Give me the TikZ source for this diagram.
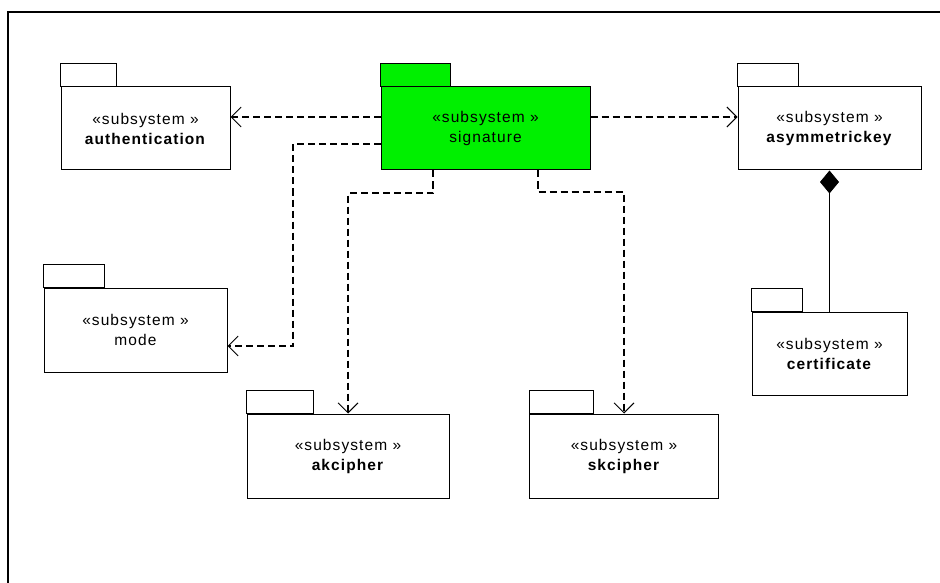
\documentclass[tikz,border=0pt]{standalone}
\usepackage{fontspec}
\setmainfont{Liberation Sans}[LetterSpace=7]
\usetikzlibrary{arrows.meta}
\definecolor{sigfill}{RGB}{0,240,0}
\begin{document}
\begin{tikzpicture}[x=1pt,y=-1pt,
  pkgline/.style={draw, line width=1pt},
  pkg/.style={pkgline, fill=white, inner sep=0pt, align=center,
    minimum height=83pt, font=\fontsize{15.5}{20}\selectfont},
  dep/.style={line width=1.4pt, dash pattern=on 7pt off 4pt,
    -{Straight Barb[length=10pt,width=20pt,line width=0.9pt]}},
  comp/.style={line width=0.9pt, {Diamond[length=23pt,width=19pt]}-}
]
\useasboundingbox (0,0) rectangle (940,583);
% outer frame
\draw[line width=1.6pt] (940,12) -- (8,12) -- (8,583);

% package tab above the body of a package node
\newcommand{\pkgtab}[3][white]{\draw[pkgline, fill=#1] (#2.north west) rectangle ++(#3,-23);}

\node[pkg, minimum width=169pt] (auth) at (145.5,128.5) {«subsystem »\\\textbf{authentication}};
\pkgtab{auth}{56}
\node[pkg, minimum width=209pt, fill=sigfill] (sig) at (485.5,128.5) {«subsystem »\\signature};
\pkgtab[sigfill]{sig}{70}
\node[pkg, minimum width=183pt] (asym) at (829.5,128.5) {«subsystem »\\\textbf{asymmetrickey}};
\pkgtab{asym}{61}
\node[pkg, minimum width=183pt, minimum height=84pt] (mode) at (135.5,330) {«subsystem »\\mode};
\pkgtab{mode}{61}
\node[pkg, minimum width=202pt, minimum height=84pt] (akc) at (348,456) {«subsystem »\\\textbf{akcipher}};
\pkgtab{akc}{67}
\node[pkg, minimum width=189pt, minimum height=84pt] (skc) at (624,456) {«subsystem »\\\textbf{skcipher}};
\pkgtab{skc}{64}
\node[pkg, minimum width=155pt] (cert) at (829.5,353.5) {«subsystem »\\\textbf{certificate}};
\pkgtab{cert}{51}

% dependencies
\draw[dep] (sig.west |- 0,117) -- (auth.east |- 0,117);
\draw[dep] (sig.east |- 0,117) -- (asym.west |- 0,117);
\draw[dep] (sig.west |- 0,144) -- (293,144) -- (293,346) -- (mode.east |- 0,346);
\draw[dep] (sig.south -| 433,0) -- (433,193) -- (348,193) -- (akc.north);
\draw[dep] (sig.south -| 538,0) -- (538,192) -- (skc.north |- 0,192) -- (skc.north);

% composition
\draw[comp] (asym.south) -- (cert.north);
\end{tikzpicture}
\end{document}
